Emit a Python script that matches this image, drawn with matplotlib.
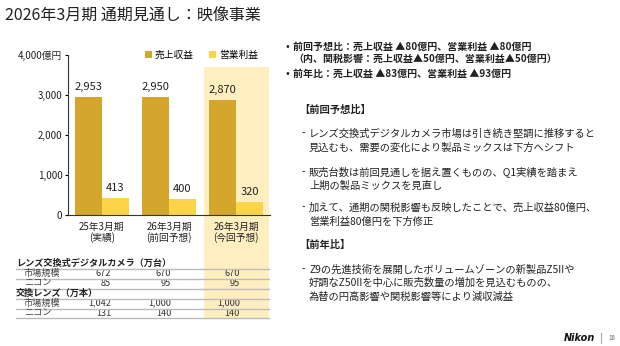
import matplotlib
matplotlib.use("Agg")
import matplotlib.pyplot as plt
from matplotlib.patches import Rectangle
from matplotlib.transforms import blended_transform_factory

plt.rcParams['font.family'] = ['Noto Sans CJK JP', 'DejaVu Sans']

# ---- data ----
categories = ["25年3月期\n(実績)", "26年3月期\n(前回予想)", "26年3月期\n(今回予想)"]
revenue = [2953, 2950, 2870]
op_profit = [413, 400, 320]
series_names = ["売上収益", "営業利益"]
yticks = [0, 1000, 2000, 3000, 4000]
ytick_labels = ["0", "1,000", "2,000", "3,000", "4,000億円"]

table_sections = ["レンズ交換式デジタルカメラ（万台）", "交換レンズ（万本）"]
row_labels = ["市場規模", "ニコン"]
camera_market = ["672", "670", "670"]
camera_nikon = ["85", "95", "95"]
lens_market = ["1,042", "1,000", "1,000"]
lens_nikon = ["131", "140", "140"]

title = "2026年3月期 通期見通し：映像事業"

# ---- colours ----
c_rev = "#D4A72C"
c_op = "#FBD448"
c_band = "#FFEFC0"
c_text = "#222222"

W, H = 620, 346
fig = plt.figure(figsize=(6.2, 3.46), dpi=100)

def fx(px):
    return px / W

def fy(py):
    return 1 - py / H

fig.text(fx(5), fy(15), title, fontsize=11.5, color=c_text, va="center", ha="left")

# main axes: y=0 at 215px, y=4000 at 55px; x from 68 to 270px
ax = fig.add_axes([fx(68), fy(215), fx(202), (215 - 55) / H])
ax.set_xlim(-0.5, 2.5)
ax.set_ylim(0, 4000)
ax.patch.set_alpha(0)

# highlight band (x in data, y in figure)
tr = blended_transform_factory(ax.transData, fig.transFigure)
band = Rectangle((1.52, fy(318)), 0.97, fy(67) - fy(318), transform=tr,
                 facecolor=c_band, edgecolor="none", zorder=0, clip_on=False)
ax.add_patch(band)

x = list(range(len(categories)))
w = 0.4
b1 = ax.bar([i - w / 2 for i in x], revenue, width=w, color=c_rev, zorder=2)
b2 = ax.bar([i + w / 2 for i in x], op_profit, width=w, color=c_op, zorder=2)
for i, v in enumerate(revenue):
    ax.text(i - w / 2, v + 130, f"{v:,}", ha="center", va="bottom",
            fontsize=8, color=c_text)
for i, v in enumerate(op_profit):
    ax.text(i + w / 2, v + 130, f"{v:,}", ha="center", va="bottom",
            fontsize=8, color=c_text)

ax.set_yticks(yticks)
ax.set_yticklabels(ytick_labels, fontsize=7, color=c_text)
ax.set_xticks(x)
ax.set_xticklabels(categories, fontsize=7, color=c_text, linespacing=1.0)
ax.tick_params(axis="y", length=2, width=0.8, pad=2)
ax.tick_params(axis="x", length=0, pad=5)
for s in ["top", "right"]:
    ax.spines[s].set_visible(False)
ax.spines["left"].set_color("#333333")
ax.spines["bottom"].set_color("#333333")

# legend
leg = ax.legend([b1, b2], series_names, loc="center right", bbox_to_anchor=(0.96, 1.0),
                ncol=2, frameon=False, fontsize=7, handlelength=0.7, handleheight=0.7,
                handletextpad=0.3, columnspacing=1.6, borderaxespad=0)

# ---- table below ----
col_right = [0.14, 1.03, 2.05]
rows = [
    ("h", table_sections[0], None),
    ("r", row_labels[0], camera_market),
    ("r", row_labels[1], camera_nikon),
    ("h", table_sections[1], None),
    ("r", row_labels[0], lens_market),
    ("r", row_labels[1], lens_nikon),
]
row_y = [263, 273, 283, 293, 303, 313]
line_y = [268.5, 278.5, 288.5, 298.5, 308.5, 318]
for (kind, label, vals), py in zip(rows, row_y):
    if kind == "h":
        fig.text(fx(16), fy(py), label, fontsize=6.6, fontweight="bold",
                 color=c_text, va="center", ha="left")
    else:
        fig.text(fx(24), fy(py), label, fontsize=6.6, color="#444444",
                 va="center", ha="left")
        for cx, v in zip(col_right, vals):
            ax.text(cx, fy(py), v, transform=tr, fontsize=6.6, color="#333333",
                    va="center", ha="right")
for ly in line_y:
    fig.add_artist(plt.Line2D([fx(16), fx(269)], [fy(ly), fy(ly)],
                              color="#BBBBBB", lw=1.0))

# ---- right-hand text ----
fs_b = 7.2
fig.text(fx(285), fy(47), "•", fontsize=fs_b, fontweight="bold", va="center", color=c_text)
fig.text(fx(293), fy(47), "前回予想比：売上収益 ▲80億円、営業利益 ▲80億円",
         fontsize=fs_b, fontweight="bold", va="center", color=c_text)
fig.text(fx(293), fy(59), "（内、関税影響：売上収益▲50億円、営業利益▲50億円）",
         fontsize=fs_b, fontweight="bold", va="center", color=c_text)
fig.text(fx(285), fy(74), "•", fontsize=fs_b, fontweight="bold", va="center", color=c_text)
fig.text(fx(293), fy(74), "前年比：売上収益 ▲83億円、営業利益 ▲93億円",
         fontsize=fs_b, fontweight="bold", va="center", color=c_text)

fs = 7.4
fig.text(fx(299), fy(110), "【前回予想比】", fontsize=fs, fontweight="bold",
         va="center", color=c_text)
body = [
    (133, "-", "レンズ交換式デジタルカメラ市場は引き続き堅調に推移すると"),
    (147, "", "見込むも、需要の変化により製品ミックスは下方へシフト"),
    (172, "-", "販売台数は前回見通しを据え置くものの、Q1実績を踏まえ"),
    (185, "", "上期の製品ミックスを見直し"),
    (207, "-", "加えて、通期の関税影響も反映したことで、売上収益80億円、"),
    (221, "", "営業利益80億円を下方修正"),
]
for py, dash, t in body:
    if dash:
        fig.text(fx(302), fy(py + 3.5), dash, fontsize=fs, va="baseline", color=c_text)
    fig.text(fx(309), fy(py + 3.5), t, fontsize=fs, va="baseline", color=c_text)

fig.text(fx(299), fy(245), "【前年比】", fontsize=fs, fontweight="bold",
         va="center", color=c_text)
body2 = [
    (269, "-", "Z9の先進技術を展開したボリュームゾーンの新製品Z5IIや"),
    (282, "", "好調なZ50IIを中心に販売数量の増加を見込むものの、"),
    (296, "", "為替の円高影響や関税影響等により減収減益"),
]
for py, dash, t in body2:
    if dash:
        fig.text(fx(302), fy(py + 3.5), dash, fontsize=fs, va="baseline", color=c_text)
    fig.text(fx(309), fy(py + 3.5), t, fontsize=fs, va="baseline", color=c_text)

# footer
fig.text(fx(595), fy(338), "Nikon", fontsize=7, fontweight="bold", fontstyle="italic",
         family=["DejaVu Sans"], ha="right", va="center", color="#111111")
fig.add_artist(plt.Line2D([fx(601), fx(601)], [fy(333), fy(343)], color="#AAAAAA", lw=0.8))
fig.text(fx(608), fy(338), "18", fontsize=4.5, ha="left", va="center", color="#666666")

fig.savefig("out.png", dpi=100)
